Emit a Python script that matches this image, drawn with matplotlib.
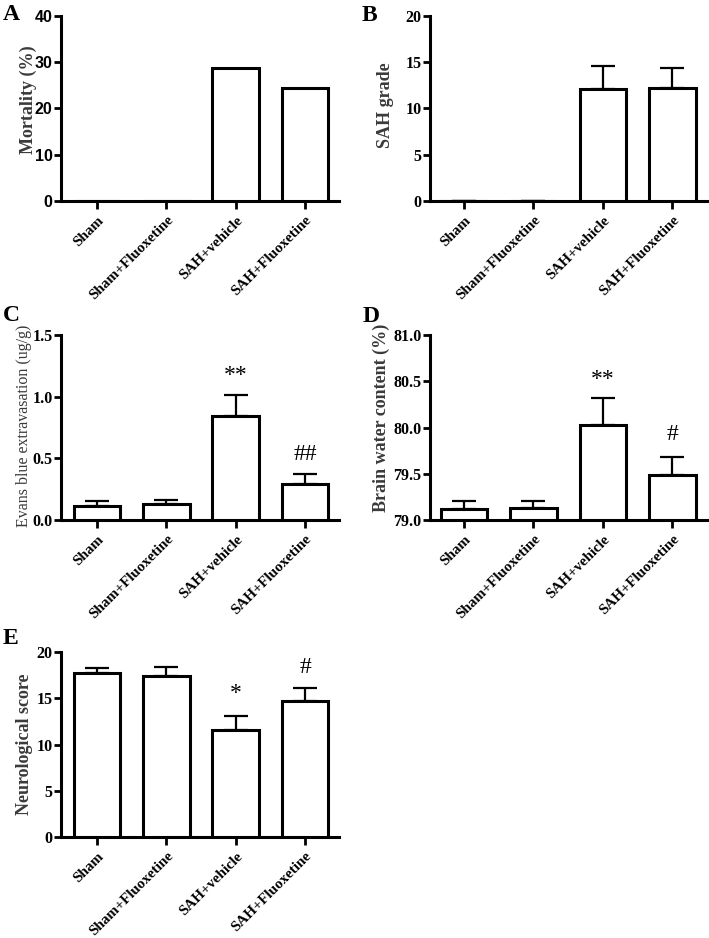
import matplotlib
matplotlib.use("Agg")
import matplotlib.pyplot as plt
import numpy as np

groups = ["Sham", "Sham+Fluoxetine", "SAH+vehicle", "SAH+Fluoxetine"]

mortality = [0, 0, 28.8, 24.4]

sah_grade = [0, 0, 12.14, 12.21]
sah_grade_err = [0, 0, 2.50, 2.21]

evans_blue = [0.116, 0.130, 0.841, 0.295]
evans_blue_err = [0.035, 0.032, 0.175, 0.081]
evans_marks = ["", "", "**", "##"]
evans_mark_y = [0, 0, 1.17, 0.53]

water = [79.12, 79.135, 80.03, 79.49]
water_err = [0.087, 0.07, 0.29, 0.19]
water_marks = ["", "", "**", "#"]
water_mark_y = [0, 0, 80.52, 79.92]

neuro = [17.73, 17.41, 11.60, 14.67]
neuro_err = [0.54, 0.93, 1.48, 1.47]
neuro_marks = ["", "", "*", "#"]
neuro_mark_y = [0, 0, 15.5, 18.35]

SERIF = ["Liberation Serif", "DejaVu Serif"]
SANS = ["Liberation Sans", "DejaVu Sans"]

W, H = 709, 938
fig = plt.figure(figsize=(W / 100, H / 100), dpi=100)

LW = 2.2


def make_ax(x0, x1, ytop, ybot):
    return fig.add_axes([x0 / W, 1 - ybot / H, (x1 - x0) / W, (ybot - ytop) / H])


def style(ax, ylim, yticks, ticklabels, tickfont, ylabel, yl_bold, label_x, label_y):
    for s in ["top", "right"]:
        ax.spines[s].set_visible(False)
    for s in ["left", "bottom"]:
        ax.spines[s].set_linewidth(LW)
    ax.set_ylim(*ylim)
    ax.set_yticks(yticks)
    ax.set_yticklabels(ticklabels, family=tickfont, fontweight="bold", fontsize=11.5)
    ax.set_xticks(range(len(groups)))
    ax.set_xticklabels(groups, family=SERIF, fontweight="bold", fontsize=10.8,
                       rotation=45, ha="right", rotation_mode="anchor")
    ax.tick_params(axis="both", direction="out", width=2, length=5, pad=1)
    ax.tick_params(axis="x", length=6, pad=3)
    ax.set_ylabel(ylabel, family=SERIF, fontweight="bold" if yl_bold else "normal",
                  fontsize=13 if yl_bold else 11.5, color="#3a3a3a")
    ax.yaxis.set_label_coords(label_x, label_y)


def bars(ax, vals, err=None, bottom=0):
    x = np.arange(len(vals))
    heights = np.array(vals) - bottom
    ax.bar(x, heights, bottom=bottom, width=0.67, color="white", edgecolor="black",
           linewidth=LW, zorder=3)
    if err is not None:
        ax.errorbar(x, vals, yerr=[np.zeros(len(err)), err], fmt="none", ecolor="black",
                    elinewidth=1.6, capsize=8.5, capthick=1.6, zorder=2)


def marks(ax, labels, ys, fs=17):
    for i, (t, y) in enumerate(zip(labels, ys)):
        if t:
            ax.text(i, y, t, ha="center", va="center", family=SERIF, fontsize=fs)


# Panel A
axA = make_ax(61, 339, 16, 201)
bars(axA, mortality)
axA.set_xlim(-0.52, 3.49)
style(axA, (0, 40), [0, 10, 20, 30, 40], ["0", "10", "20", "30", "40"], SANS,
      "Mortality (%)", True, -0.088, 0.545)

# Panel B
axB = make_ax(430, 707, 16, 201)
bars(axB, sah_grade, sah_grade_err)
axB.set_xlim(-0.49, 3.5)
style(axB, (0, 20), [0, 5, 10, 15, 20], ["0", "5", "10", "15", "20"], SERIF,
      "SAH grade", True, -0.13, 0.52)

# Panel C
axC = make_ax(61, 339, 335, 520)
bars(axC, evans_blue, evans_blue_err)
marks(axC, evans_marks, evans_mark_y)
axC.set_xlim(-0.52, 3.49)
style(axC, (0, 1.5), [0, 0.5, 1.0, 1.5], ["0.0", "0.5", "1.0", "1.5"], SERIF,
      "Evans blue extravasation (ug/g)", False, -0.105, 0.51)

# Panel D
axD = make_ax(430, 707, 335, 520)
bars(axD, water, water_err, bottom=79.0)
marks(axD, water_marks, water_mark_y)
axD.set_xlim(-0.49, 3.5)
style(axD, (79.0, 81.0), [79.0, 79.5, 80.0, 80.5, 81.0],
      ["79.0", "79.5", "80.0", "80.5", "81.0"], SERIF,
      "Brain water content (%)", True, -0.145, 0.55)

# Panel E
axE = make_ax(61, 339, 652, 837)
bars(axE, neuro, neuro_err)
marks(axE, neuro_marks, neuro_mark_y)
axE.set_xlim(-0.52, 3.49)
style(axE, (0, 20), [0, 5, 10, 15, 20], ["0", "5", "10", "15", "20"], SERIF,
      "Neurological score", True, -0.10, 0.5)

# Panel letters
for letter, px, py in [("A", 3, 4), ("B", 362, 5), ("C", 3, 305), ("D", 363, 306), ("E", 3, 628)]:
    fig.text(px / W, 1 - py / H, letter, family=SERIF, fontweight="bold", fontsize=17,
             ha="left", va="top")

fig.savefig("out.png", dpi=100)
